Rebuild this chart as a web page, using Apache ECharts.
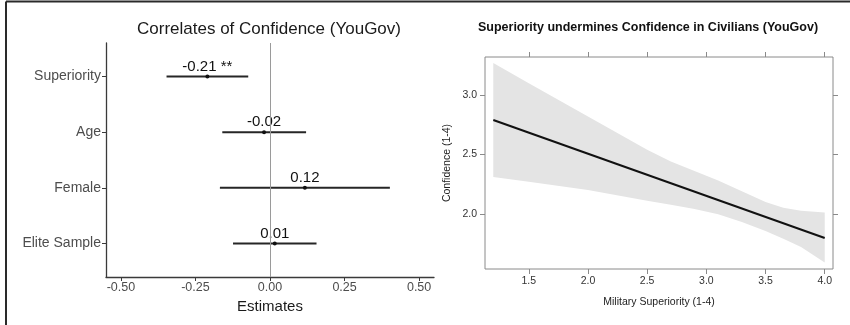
<!DOCTYPE html>
<html>
<head>
<meta charset="utf-8">
<script src="https://cdn.jsdelivr.net/npm/echarts@6/dist/echarts.min.js"></script>
<style>
  html, body { margin: 0; padding: 0; background: #fff; }
  #chart { width: 850px; height: 325px; }
</style>
</head>
<body>
<div id="chart"></div>
<script>
// Left panel: regression coefficients with 95% intervals
const categories = ['Superiority', 'Age', 'Female', 'Elite Sample'];
const estimates = [-0.21, -0.02, 0.117, 0.016];
const lowerCI = [-0.347, -0.160, -0.168, -0.124];
const upperCI = [-0.073, 0.121, 0.402, 0.156];
const estimateLabels = ['-0.21 **', '-0.02', '0.12', '0.01'];
const estimateTicks = [-0.5, -0.25, 0, 0.25, 0.5];

// Right panel: predicted confidence by military superiority
const fitX = [1.2, 4.0];
const fitY = [2.79, 1.796];
const bandX = [1.2, 1.5, 2.0, 2.5, 2.7, 2.9, 3.1, 3.3, 3.5, 3.65, 3.8, 4.0];
const bandUpper = [3.27, 3.10, 2.82, 2.54, 2.44, 2.36, 2.28, 2.19, 2.10, 2.05, 2.025, 2.01];
const bandLower = [2.31, 2.27, 2.20, 2.11, 2.075, 2.04, 1.995, 1.93, 1.855, 1.79, 1.72, 1.59];
const superiorityTicks = [1.5, 2.0, 2.5, 3.0, 3.5, 4.0];
const confidenceTicks = [2.0, 2.5, 3.0];

const FONT = '"Liberation Sans", Arial, Helvetica, sans-serif';

const coefData = categories.map((c, i) => [estimates[i], i + 1, lowerCI[i], upperCI[i]]);
const bandData = bandX.map((x, i) => [x, bandLower[i], bandUpper[i]]);

const chart = echarts.init(document.getElementById('chart'), null, { renderer: 'canvas' });

chart.setOption({
  animation: false,
  backgroundColor: '#ffffff',
  textStyle: { fontFamily: FONT },
  grid: [
    { left: 106, top: 43, width: 328, height: 234, show: false },
    { left: 485, top: 57, width: 348, height: 212, show: true, borderColor: '#8a8a8a', borderWidth: 1 }
  ],
  xAxis: [
    {
      gridIndex: 0, type: 'value', min: -0.55, max: 0.55,
      name: 'Estimates', nameLocation: 'middle', nameGap: 12,
      nameTextStyle: { fontSize: 15, color: '#1a1a1a', fontFamily: FONT },
      axisLine: { show: true, onZero: false, lineStyle: { color: '#3a3a3a', width: 1.3 } },
      axisTick: { show: true, customValues: estimateTicks, length: 4, lineStyle: { color: '#3a3a3a' } },
      axisLabel: { customValues: estimateTicks, formatter: v => v.toFixed(2), fontSize: 12.5, color: '#4d4d4d', margin: 4, fontFamily: FONT },
      splitLine: { show: false }
    },
    {
      gridIndex: 1, type: 'value', min: 1.13, max: 4.07,
      name: 'Military Superiority (1-4)', nameLocation: 'middle', nameGap: 28,
      nameTextStyle: { fontSize: 10.5, color: '#222', fontFamily: FONT },
      axisLine: { show: false },
      axisTick: { show: true, customValues: superiorityTicks, length: 5, lineStyle: { color: '#8a8a8a' } },
      axisLabel: { customValues: superiorityTicks, formatter: v => v.toFixed(1), fontSize: 10.5, color: '#333', margin: 7, fontFamily: FONT },
      splitLine: { show: false }
    },
    {
      gridIndex: 1, type: 'value', min: 1.13, max: 4.07, position: 'top',
      axisLine: { show: false },
      axisTick: { show: true, customValues: superiorityTicks, length: 5, lineStyle: { color: '#8a8a8a' } },
      axisLabel: { show: false },
      splitLine: { show: false }
    }
  ],
  yAxis: [
    {
      gridIndex: 0, type: 'value', min: 0.4, max: 4.6, inverse: true,
      axisLine: { show: true, onZero: false, lineStyle: { color: '#3a3a3a', width: 1.3 } },
      axisTick: { show: true, customValues: [1, 2, 3, 4], length: 4, lineStyle: { color: '#3a3a3a' } },
      axisLabel: { customValues: [1, 2, 3, 4], formatter: v => categories[Math.round(v) - 1], fontSize: 14, color: '#4d4d4d', margin: 5, fontFamily: FONT },
      splitLine: { show: false }
    },
    {
      gridIndex: 1, type: 'value', min: 1.535, max: 3.32,
      name: 'Confidence (1-4)', nameLocation: 'middle', nameGap: 32, nameRotate: 90,
      nameTextStyle: { fontSize: 10.5, color: '#222', fontFamily: FONT },
      axisLine: { show: false },
      axisTick: { show: true, customValues: confidenceTicks, length: 5, lineStyle: { color: '#8a8a8a' } },
      axisLabel: { customValues: confidenceTicks, formatter: v => v.toFixed(1), fontSize: 10.5, color: '#333', margin: 8, fontFamily: FONT },
      splitLine: { show: false }
    },
    {
      gridIndex: 1, type: 'value', min: 1.535, max: 3.32, position: 'right',
      axisLine: { show: false },
      axisTick: { show: true, customValues: confidenceTicks, length: 5, lineStyle: { color: '#8a8a8a' } },
      axisLabel: { show: false },
      splitLine: { show: false }
    }
  ],
  graphic: [
    // frame edges along the top and left
    { type: 'line', shape: { x1: 6, y1: 1.5, x2: 850, y2: 1.5 }, style: { stroke: '#2a2a2a', lineWidth: 2 }, z: 100 },
    { type: 'line', shape: { x1: 6, y1: 1.5, x2: 6, y2: 325 }, style: { stroke: '#2a2a2a', lineWidth: 2 }, z: 100 },
    {
      type: 'text', x: 269, y: 29,
      style: { text: 'Correlates of Confidence (YouGov)', fontSize: 17, fontFamily: FONT, fill: '#1a1a1a', textAlign: 'center', textVerticalAlign: 'middle' }
    },
    {
      type: 'text', x: 648, y: 28,
      style: { text: 'Superiority undermines Confidence in Civilians (YouGov)', fontSize: 12.5, fontWeight: 'bold', fontFamily: FONT, fill: '#111', textAlign: 'center', textVerticalAlign: 'middle' }
    }
  ],
  series: [
    {
      // zero reference line
      type: 'line', xAxisIndex: 0, yAxisIndex: 0, data: [], z: 1,
      markLine: {
        silent: true, symbol: 'none', label: { show: false },
        lineStyle: { color: '#9a9a9a', width: 1, type: 'solid' },
        data: [{ xAxis: 0 }]
      }
    },
    {
      type: 'custom', xAxisIndex: 0, yAxisIndex: 0, z: 3,
      data: coefData,
      encode: { x: [0, 2, 3], y: 1 },
      renderItem: function (params, api) {
        const row = api.value(1);
        const a = api.coord([api.value(2), row]);
        const b = api.coord([api.value(3), row]);
        const p = api.coord([api.value(0), row]);
        return {
          type: 'group',
          children: [
            { type: 'line', shape: { x1: a[0], y1: a[1], x2: b[0], y2: b[1] }, style: { stroke: '#262626', lineWidth: 2 } },
            { type: 'circle', shape: { cx: p[0], cy: p[1], r: 2 }, style: { fill: '#111' } },
            {
              type: 'text', x: p[0], y: p[1] - 10,
              style: { text: estimateLabels[params.dataIndex], fontSize: 15, fontFamily: FONT, fill: '#111', textAlign: 'center', textVerticalAlign: 'middle' }
            }
          ]
        };
      }
    },
    {
      // confidence band
      type: 'custom', xAxisIndex: 1, yAxisIndex: 1, z: 2,
      data: bandData,
      encode: { x: 0, y: [1, 2] },
      renderItem: function (params, api) {
        if (params.dataIndex !== 0) return null;
        const pts = [];
        for (let i = 0; i < bandX.length; i++) pts.push(api.coord([bandX[i], bandUpper[i]]));
        for (let i = bandX.length - 1; i >= 0; i--) pts.push(api.coord([bandX[i], bandLower[i]]));
        return { type: 'polygon', shape: { points: pts }, style: { fill: '#e4e4e4' } };
      }
    },
    {
      type: 'line', xAxisIndex: 1, yAxisIndex: 1, z: 4,
      data: fitX.map((x, i) => [x, fitY[i]]),
      symbol: 'none',
      lineStyle: { color: '#111', width: 2 }
    }
  ]
});
</script>
</body>
</html>
